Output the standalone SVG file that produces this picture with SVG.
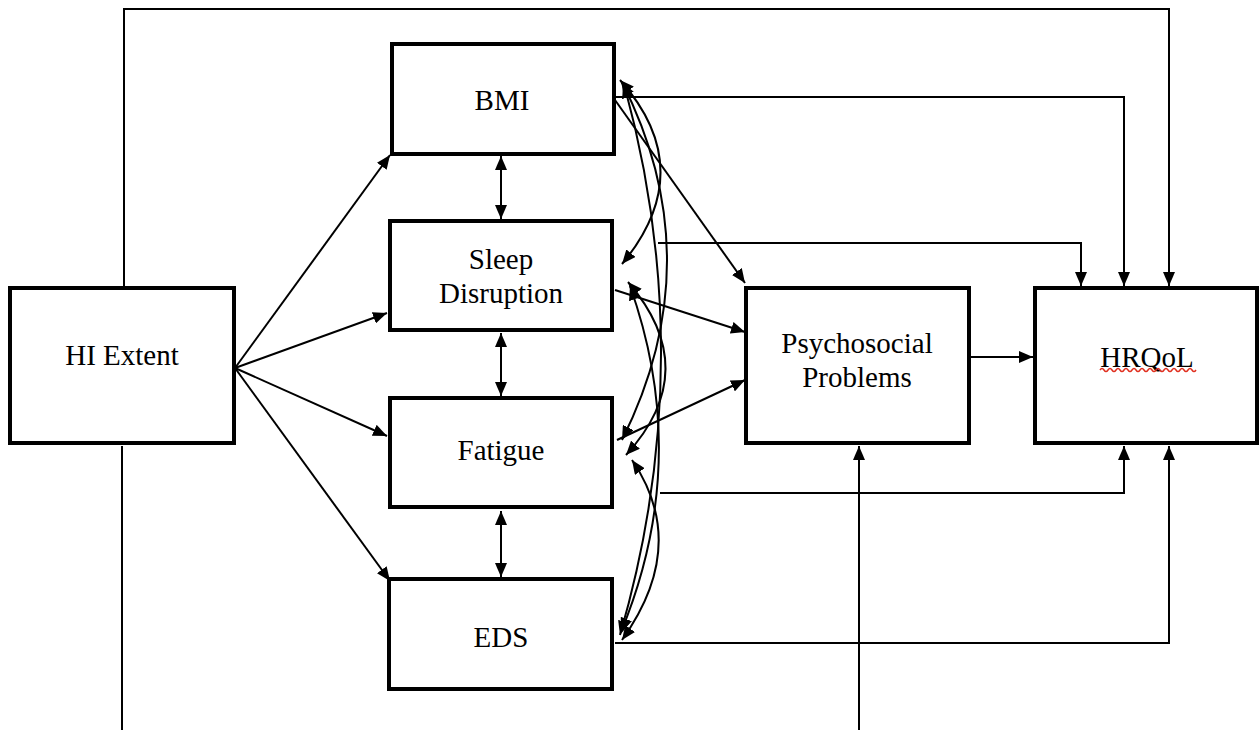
<svg xmlns="http://www.w3.org/2000/svg" width="1259" height="730" viewBox="0 0 1259 730">
<style>
.box{fill:#fff;stroke:#000;stroke-width:4}
.t{font-family:"Liberation Serif","Times New Roman",serif;font-size:29px;fill:#000;text-anchor:middle}
.c{fill:none;stroke:#000;stroke-width:2}
.a{marker-end:url(#ah)}
.b{marker-start:url(#ah);marker-end:url(#ah)}
</style>
<defs>
<marker id="ah" viewBox="0 0 14 12" refX="14" refY="6" markerWidth="14" markerHeight="12" markerUnits="userSpaceOnUse" orient="auto-start-reverse">
<path d="M0,0 L14,6 L0,12 z" fill="#000"/>
</marker>
</defs>
<rect width="1259" height="730" fill="#fff"/>
<g id="connectors">
<path class="c a" d="M124,287 V9 H1169 V286"/>
<path class="c" d="M122,446 V730"/>
<path class="c a" d="M859,730 V446"/>
<path class="c a" d="M660,493 H1124 V446"/>
<path class="c a" d="M615,643 H1169 V446"/>
<path class="c a" d="M615,97 H1124 V286"/>
<path class="c a" d="M658,243 H1081 V286"/>
<path class="c a" d="M970,357 H1033"/>
<path class="c a" d="M235,368 L390,155"/>
<path class="c a" d="M235,368 L387,313"/>
<path class="c a" d="M235,368 L387,436"/>
<path class="c a" d="M235,368 L390,581"/>
<path class="c a" d="M615,100 L745,283"/>
<path class="c a" d="M615,290 L745,332"/>
<path class="c a" d="M617,440 L745,380"/>
<path class="c b" d="M501,156 V219"/>
<path class="c b" d="M501,333 V396"/>
<path class="c b" d="M501,511 V577"/>
<path class="c b" d="M620,80 Q700,170 622,264"/>
<path class="c b" d="M622,82 Q712,260 622,440"/>
<path class="c b" d="M624,84 Q700,360 620,635"/>
<path class="c b" d="M628,282 Q704,370 626,455"/>
<path class="c b" d="M630,286 Q692,460 621,632"/>
<path class="c b" d="M632,460 Q690,545 622,640"/>
</g>
<g id="hi-extent">
<rect class="box" x="10" y="288" width="224" height="155"/>
<text class="t" x="122" y="365">HI Extent</text>
</g>
<g id="bmi">
<rect class="box" x="392" y="44" width="222" height="110"/>
<text class="t" x="502" y="110">BMI</text>
</g>
<g id="sleep">
<rect class="box" x="390" y="221" width="222" height="109"/>
<text class="t" x="501" y="269">Sleep</text>
<text class="t" x="501" y="303">Disruption</text>
</g>
<g id="fatigue">
<rect class="box" x="390" y="398" width="222" height="109"/>
<text class="t" x="501" y="460">Fatigue</text>
</g>
<g id="eds">
<rect class="box" x="389" y="579" width="223" height="110"/>
<text class="t" x="501" y="647">EDS</text>
</g>
<g id="psychosocial">
<rect class="box" x="746" y="288" width="223" height="155"/>
<text class="t" x="857" y="353">Psychosocial</text>
<text class="t" x="857" y="387">Problems</text>
</g>
<g id="hrqol">
<rect class="box" x="1035" y="288" width="222" height="155"/>
<text class="t" x="1147" y="367">HRQoL</text>
<path d="M1100,370 q2,-3 4,0 t4,0 t4,0 t4,0 t4,0 t4,0 t4,0 t4,0 t4,0 t4,0 t4,0 t4,0 t4,0 t4,0 t4,0 t4,0 t4,0 t4,0 t4,0 t4,0 t4,0 t4,0 t4,0 t4,0" fill="none" stroke="#e03020" stroke-width="1.5"/>
</g>
</svg>
